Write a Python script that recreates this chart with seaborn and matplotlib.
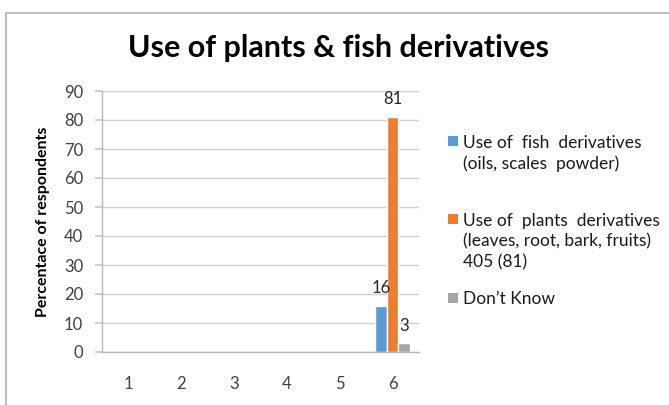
import matplotlib
matplotlib.use("Agg")
import matplotlib.pyplot as plt
import matplotlib.patches as mpatches
from matplotlib.lines import Line2D
import seaborn as sns
import pandas as pd

categories = ["1", "2", "3", "4", "5", "6"]
fish = [0, 0, 0, 0, 0, 16]
plants = [0, 0, 0, 0, 0, 81]
dont_know = [0, 0, 0, 0, 0, 3]
series_names = ["Use of  fish  derivatives\n(oils, scales  powder)",
                "Use of  plants  derivatives\n(leaves, root, bark, fruits)\n405 (81)",
                "Don\u2019t Know"]
colors = ["#5B9BD5", "#ED7D31", "#A5A5A5"]
yticks = [0, 10, 20, 30, 40, 50, 60, 70, 80, 90]

sns.set_theme(style="white")
plt.rcParams['font.family'] = ['Lato', 'DejaVu Sans']

rows = []
for name, vals in zip(series_names, [fish, plants, dont_know]):
    for c, v in zip(categories, vals):
        rows.append({"cat": c, "series": name, "value": v})
df = pd.DataFrame(rows)

W, H = 669, 405
fig = plt.figure(figsize=(W / 100, H / 100), dpi=100)
ax = fig.add_axes([102 / W, 1 - 352 / H, (419 - 102) / W, (352 - 91) / H])

sns.barplot(data=df, x="cat", y="value", hue="series", palette=colors,
            order=categories, hue_order=series_names, width=0.667,
            ax=ax, legend=False, saturation=1, errorbar=None)

ax.set_ylim(0, 90)
ax.set_yticks(yticks)
ax.set_xlim(-0.5, 5.5)
ax.yaxis.grid(True, color="#D0D0D0", linewidth=1)
ax.set_axisbelow(True)
for s in ["top", "right"]:
    ax.spines[s].set_visible(False)
for s in ["left", "bottom"]:
    ax.spines[s].set_color("#B8B8B8")
    ax.spines[s].set_linewidth(1)
ax.tick_params(axis="y", length=5, color="#C8C8C8", labelsize=12,
               labelcolor="#404040", pad=8.5, left=True)
ax.tick_params(axis="x", length=0, labelsize=12, labelcolor="#404040", pad=17)
ax.set_xlabel("")
ax.set_ylabel("Percentace of respondents", fontsize=11.5, fontweight="bold",
              color="#000000", labelpad=10)

for cont in ax.containers:
    labels = [("%d" % b.get_height()) if b.get_height() > 0 else "" for b in cont]
    ax.bar_label(cont, labels=labels, padding=7, fontsize=12, color="#262626")

fig.text(339 / W, 1 - 48 / H, "Use of plants & fish derivatives", ha="center",
         va="center", fontsize=22, fontweight="bold", color="#000000")

# legend
leg_items = [(series_names[0], 141), (series_names[1], 219), (series_names[2], 297.5)]
for (txt, yc), col in zip(leg_items, colors):
    fig.patches.append(mpatches.Rectangle((448 / W, 1 - (yc + 5) / H), 10 / W, 10 / H,
                                          transform=fig.transFigure, facecolor=col,
                                          edgecolor="none"))
    fig.text(463 / W, 1 - (yc - 6) / H, txt, ha="left", va="top", fontsize=12.5,
             color="#1A1A1A", linespacing=1.36)

# chart border
fig.add_artist(Line2D([6.5 / W, 6.5 / W], [0, 1 - 13 / H], transform=fig.transFigure,
                      color="#BFBFBF", linewidth=1.5))
fig.add_artist(Line2D([6.5 / W, 1], [1 - 13 / H, 1 - 13 / H], transform=fig.transFigure,
                      color="#BFBFBF", linewidth=1.5))

fig.savefig("out.png", dpi=100)
